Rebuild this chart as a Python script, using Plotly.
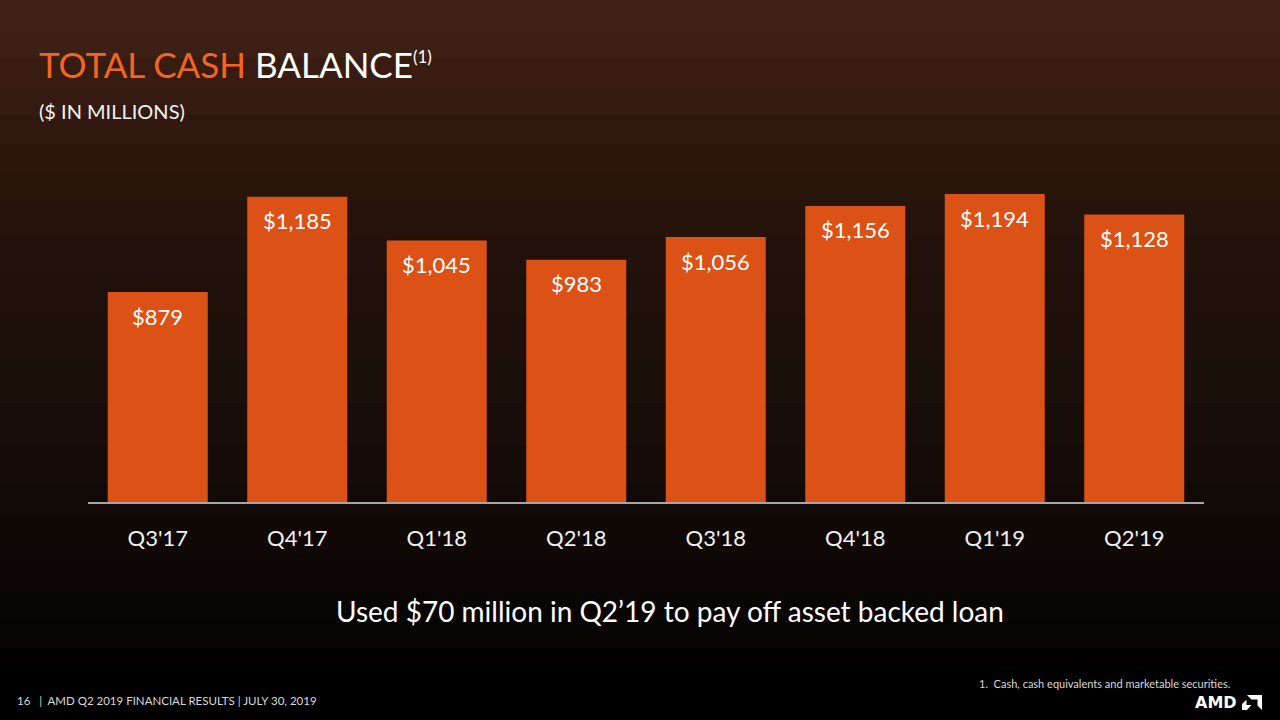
import plotly.graph_objects as go

quarters = ["Q3'17", "Q4'17", "Q1'18", "Q2'18", "Q3'18", "Q4'18", "Q1'19", "Q2'19"]
cash = [879, 1185, 1045, 983, 1056, 1156, 1194, 1128]
labels = ["$879", "$1,185", "$1,045", "$983", "$1,056", "$1,156", "$1,194", "$1,128"]

FONT = "Lato"

fig = go.Figure()
fig.add_trace(go.Bar(
    x=quarters, y=cash,
    marker=dict(color="#db5116", line=dict(width=0)),
    hoverinfo="skip",
))

plot_h = 372
def py(pix):
    return (502 - pix) / plot_h
def px(pix):
    return (pix - 88) / 1116

# background vertical gradient (decorative), drawn as nested rects to avoid seams
stops = [
    (0.04, "#40211a"), (0.08, "#3c1f15"), (0.12, "#381c12"),
    (0.16, "#341a10"), (0.20, "#30180f"), (0.24, "#2c160d"),
    (0.28, "#28150c"), (0.33, "#25130c"), (0.38, "#22120b"),
    (0.44, "#1f110a"), (0.50, "#1d100a"), (0.56, "#1b0f09"),
    (0.62, "#180d08"), (0.67, "#150c07"), (0.72, "#120a06"),
    (0.77, "#0f0805"), (0.82, "#0c0604"), (0.86, "#090503"),
    (0.90, "#060302"), (0.93, "#030201"),
]
shapes = []
for y1, c in reversed(stops):
    shapes.append(dict(type="rect", xref="paper", yref="paper", layer="below",
                       x0=px(-2), x1=px(1282),
                       y0=py(y1 * 720), y1=py(-2),
                       line=dict(width=0), fillcolor=c))

# AMD logo arrow
shapes.append(dict(type="path", xref="paper", yref="paper", layer="above",
                   path=f"M {px(1247)} {py(695)} L {px(1262)} {py(695)} L {px(1262)} {py(710)} L {px(1257.5)} {py(705.5)} L {px(1257.5)} {py(699.5)} L {px(1251.5)} {py(699.5)} Z",
                   fillcolor="white", line=dict(width=0)))
shapes.append(dict(type="path", xref="paper", yref="paper", layer="above",
                   path=f"M {px(1242)} {py(704)} L {px(1246.5)} {py(699.8)} L {px(1246.5)} {py(705)} L {px(1251.5)} {py(705)} L {px(1247)} {py(710)} L {px(1242)} {py(710)} Z",
                   fillcolor="white", line=dict(width=0)))

annotations = []
for q, v, t in zip(quarters, cash, labels):
    annotations.append(dict(x=q, y=v, xref="x", yref="y", text=t, showarrow=False,
                            yanchor="middle", yshift=-24,
                            font=dict(family=FONT, size=22, color="white")))

ann = [
    dict(text="<span style='color:#f26522'>TOTAL CASH</span> BALANCE<sup><span style='font-size:17px'>(1)</span></sup>",
         x=37, y=64, size=35, color="white", xanchor="left"),
    dict(text="($ IN MILLIONS)", x=37, y=111, size=20, color="#f2f2f2", xanchor="left"),
    dict(text="Used $70 million in Q2’19 to pay off asset backed loan", x=670, y=611,
         size=28, color="white", xanchor="center"),
    dict(text="16   |  AMD Q2 2019 FINANCIAL RESULTS | JULY 30, 2019", x=15, y=700,
         size=11.5, color="#d9d9d9", xanchor="left"),
    dict(text="1.  Cash, cash equivalents and marketable securities.", x=977, y=683,
         size=11, color="#d9d9d9", xanchor="left"),
    dict(text="<b>AMD</b>", x=1239, y=702.5, size=16, color="white", xanchor="right", family="DejaVu Sans"),
]
for a in ann:
    annotations.append(dict(text=a["text"], xref="paper", yref="paper", x=px(a["x"]), y=py(a["y"]),
                            xanchor=a["xanchor"], yanchor="middle", showarrow=False,
                            font=dict(family=a.get("family", FONT), size=a["size"], color=a["color"])))

fig.update_layout(
    width=1280, height=720,
    margin=dict(l=88, r=76, t=130, b=218, pad=0),
    paper_bgcolor="#000000", plot_bgcolor="rgba(0,0,0,0)",
    bargap=0.283, showlegend=False,
    xaxis=dict(showgrid=False, showline=True, linecolor="#a6a6a6", linewidth=2,
               ticks="", tickfont=dict(family=FONT, size=22, color="#f2f2f2"),
               ticklabelstandoff=16, zeroline=False),
    yaxis=dict(range=[204, 1400], visible=False, showgrid=False, zeroline=False),
    shapes=shapes, annotations=annotations,
    font=dict(family=FONT),
)

fig.write_html("out.html", config={"displayModeBar": False},
               post_script="document.body.style.margin='0';document.body.style.overflow='hidden';")
